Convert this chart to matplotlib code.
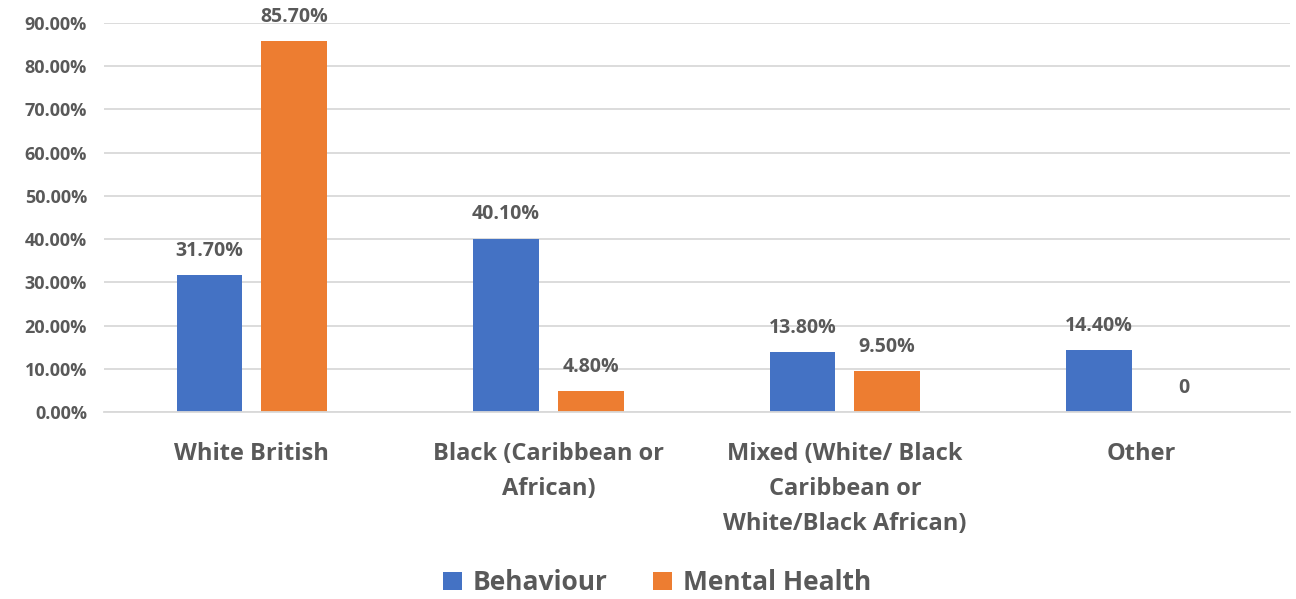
import matplotlib
matplotlib.use("Agg")
import matplotlib.pyplot as plt
import numpy as np
from matplotlib.ticker import PercentFormatter

categories = ["White British", "Black (Caribbean or\nAfrican)",
              "Mixed (White/ Black\nCaribbean or\nWhite/Black African)", "Other"]
behaviour = [0.317, 0.401, 0.138, 0.144]
mental_health = [0.857, 0.048, 0.095, 0.0]
behaviour_labels = ["31.70%", "40.10%", "13.80%", "14.40%"]
mental_labels = ["85.70%", "4.80%", "9.50%", "0"]

BLUE, ORANGE = "#4472C4", "#ED7D31"
TXT, GRID = "#595959", "#D9D9D9"

plt.rcParams["font.family"] = ["Open Sans", "DejaVu Sans"]
plt.rcParams["font.weight"] = "bold"

fig = plt.figure(figsize=(12.96, 5.99), dpi=100)
ax = fig.add_axes([0.080, 0.312, 0.915, 0.650])

x = np.arange(len(categories))
w, off = 0.222, 0.143
ax.bar(x - off, behaviour, w, color=BLUE, label="Behaviour")
ax.bar(x + off, mental_health, w, color=ORANGE, label="Mental Health")

# data labels above each bar
for xi, v, s in zip(x, behaviour, behaviour_labels):
    ax.text(xi - off, v + 0.033, s, ha="center", va="bottom", fontsize=14,
            fontweight="bold", color=TXT, clip_on=False)
for xi, v, s in zip(x, mental_health, mental_labels):
    ax.text(xi + off, v + 0.033, s, ha="center", va="bottom", fontsize=14,
            fontweight="bold", color=TXT, clip_on=False)

ax.set_xlim(-0.5, 3.5)
ax.set_ylim(0, 0.9)
ax.set_yticks(np.arange(0, 0.91, 0.1))
ax.yaxis.set_major_formatter(PercentFormatter(1.0, decimals=2))
ax.yaxis.grid(True, color=GRID, lw=1.3)
ax.set_axisbelow(True)
for s in ("top", "right", "left"):
    ax.spines[s].set_visible(False)
ax.spines["bottom"].set_color(GRID)
ax.spines["bottom"].set_linewidth(1.3)
ax.tick_params(length=0, colors=TXT)
ax.tick_params(axis="y", labelsize=13, pad=12)
ax.set_xticks(x)
ax.set_xticklabels(categories, fontsize=17, fontweight="bold", color=TXT,
                   linespacing=1.6)
ax.tick_params(axis="x", pad=21.5)

fig.legend(loc="center", bbox_to_anchor=(0.507, 0.027), ncol=2, frameon=False,
           fontsize=19, labelcolor=TXT, handlelength=0.7, handleheight=0.7,
           columnspacing=1.75, handletextpad=0.4)

fig.savefig("out.png", dpi=100)
